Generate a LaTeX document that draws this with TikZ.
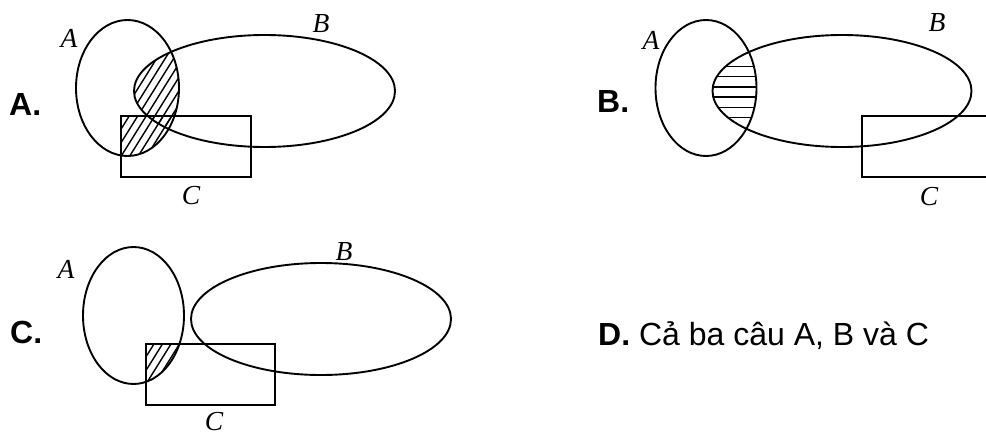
\documentclass[tikz,border=0pt]{standalone}
\usepackage{fontspec}
\setmainfont{Liberation Serif}
\newfontfamily\arialfont{Liberation Sans}
\begin{document}
\begin{tikzpicture}[x=1pt,y=-1pt,
  outline/.style={line width=1.9pt, black},
  hatchline/.style={line width=1.4pt, black},
  setlabel/.style={inner sep=0pt, anchor=base, font=\fontsize{27.5}{32}\selectfont\itshape},
  optlabel/.style={inner sep=0pt, anchor=base west, font=\fontsize{32}{38}\selectfont\arialfont}
]
\fill[white] (0,0) rectangle (986,436);
\useasboundingbox (0,0) rectangle (986,436);

% ---------------- Panel A ----------------
\begin{scope}
  \clip (127.5,88) ellipse [x radius=51.5pt, y radius=68pt];
  \clip (264.5,91) ellipse [x radius=130.5pt, y radius=56pt];
  \foreach \x in {-100,-91.5,...,300} \draw[hatchline] (\x,170) -- (\x+100,10);
\end{scope}
\begin{scope}
  \clip (127.5,88) ellipse [x radius=51.5pt, y radius=68pt];
  \clip (121,116) rectangle (251,177);
  \foreach \x in {-100,-91.5,...,300} \draw[hatchline] (\x,170) -- (\x+100,10);
\end{scope}
\draw[outline] (127.5,88) ellipse [x radius=51.5pt, y radius=68pt];
\draw[outline] (264.5,91) ellipse [x radius=130.5pt, y radius=56pt];
\draw[outline] (121,116) rectangle (251,177);
\node[optlabel, font=\fontsize{32}{38}\selectfont\arialfont\bfseries] (optA) at (9,115) {A.};
\node[setlabel] (aA) at (69,48) {A};
\node[setlabel] (aB) at (321,33) {B};
\node[setlabel] (aC) at (191,204) {C};

% ---------------- Panel B ----------------
\begin{scope}
  \clip (706,88) ellipse [x radius=50.5pt, y radius=68pt];
  \clip (842,91) ellipse [x radius=129.5pt, y radius=56pt];
  \foreach \y in {66.5,76.7,86.9,97.1,107.3,117.5} \draw[hatchline] (640,\y) -- (780,\y);
\end{scope}
\draw[outline] (706,88) ellipse [x radius=50.5pt, y radius=68pt];
\draw[outline] (842,91) ellipse [x radius=129.5pt, y radius=56pt];
\draw[outline] (990,116) -- (862.3,116) -- (862.3,177) -- (990,177);
\node[optlabel, font=\fontsize{32}{38}\selectfont\arialfont\bfseries] (optB) at (597,113) {B.};
\node[setlabel] (bA) at (651,50) {A};
\node[setlabel] (bB) at (937,32) {B};
\node[setlabel] (bC) at (929,205) {C};

% ---------------- Panel C ----------------
\begin{scope}
  \clip (133.5,315.5) ellipse [x radius=50.5pt, y radius=68.5pt];
  \clip (145.7,344) rectangle (275.3,405);
  \foreach \x in {0,8.5,...,300} \draw[hatchline] (\x,400) -- (\x+43.75,330);
\end{scope}
\draw[outline] (133.5,315.5) ellipse [x radius=50.5pt, y radius=68.5pt];
\draw[outline] (321,319) ellipse [x radius=130pt, y radius=56pt];
\draw[outline] (145.7,344) rectangle (275.3,405);
\node[optlabel, font=\fontsize{32}{38}\selectfont\arialfont\bfseries] (optC) at (10,343) {C.};
\node[setlabel] (cA) at (66,278) {A};
\node[setlabel] (cB) at (344,260) {B};
\node[setlabel] (cC) at (214,430) {C};

% ---------------- Option D ----------------
\node[optlabel] (optD) at (598,345) {\textbf{D.} Cả ba câu A, B và C};
\end{tikzpicture}
\end{document}
